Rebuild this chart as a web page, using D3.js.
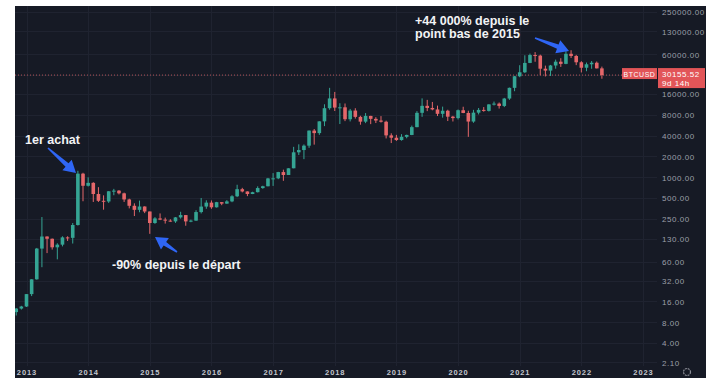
<!DOCTYPE html>
<html>
<head>
<meta charset="utf-8">
<script src="https://cdn.jsdelivr.net/npm/d3@7"></script>
<style>
  body { margin: 0; background: #ffffff; }
  svg { display: block; font-family: "Liberation Sans", Arial, sans-serif; }
</style>
</head>
<body>
<div class="chart"></div>
<script>
var svgWidth = 720;
var svgHeight = 389;

// panel and plot box
var panel = { left: 15, top: 6, right: 706, bottom: 378 };
var plot = { left: 15, top: 6, right: 657, bottom: 366 };

// monthly BTCUSD candles, first one is Nov 2012
var firstMonth = new Date(2012, 10, 1);

var open = [
  11.2, 12.6,
  13.5, 20.4, 33.4, 93, 139, 129, 97, 106, 135, 133, 204, 1129,
  754, 831, 573, 457, 447, 628, 641, 586, 478, 387, 338, 378,
  320, 218, 254, 244, 236, 230, 263, 284, 230, 236, 314, 377,
  430, 368, 437, 416, 448, 531, 673, 624, 573, 609, 699, 742,
  963, 966, 1190, 1080, 1350, 2300, 2480, 2870, 4740, 4360, 6450, 10000,
  13850, 10200, 10300, 6920, 9240, 7490, 6390, 7730, 7010, 6630, 6370, 4040,
  3740, 3460, 3850, 4100, 5320, 8570, 10820, 10080, 9590, 8290, 9190, 7540,
  7190, 9350, 8530, 6410, 8620, 9450, 9140, 11350, 11650, 10780, 13800, 19700,
  28990, 33100, 45200, 58800, 57700, 37300, 35000, 41500, 47100, 43800, 61300, 57000,
  46200, 38500, 43200, 45500, 37700
];

var high = [
  12.8, 13.8,
  20.4, 33.5, 95, 266, 140, 130, 111, 140, 140, 218, 1242, 1163,
  1000, 849, 720, 548, 630, 680, 653, 600, 490, 420, 460, 380,
  320, 265, 300, 261, 247, 266, 317, 285, 244, 334, 502, 465,
  462, 441, 437, 467, 550, 780, 704, 626, 618, 740, 755, 980,
  1150, 1200, 1290, 1350, 2760, 3000, 2990, 4760, 5000, 6470, 11400, 19700,
  17200, 11800, 11700, 9760, 9990, 7770, 8500, 7760, 7410, 7680, 6600, 4330,
  4110, 4210, 4140, 5600, 9070, 13880, 13200, 12320, 10900, 10540, 9500, 7750,
  9580, 10500, 9190, 9470, 10070, 10380, 11440, 12470, 12090, 14100, 19900, 29300,
  41900, 58300, 61700, 64800, 59500, 41300, 42300, 50500, 52900, 67000, 69000, 59100,
  47900, 45800, 48200, 47400, 40000
];

var low = [
  10.0, 12.2,
  13.3, 19.1, 33, 50, 80, 90, 65, 100, 120, 110, 200, 450,
  735, 440, 440, 340, 426, 550, 565, 440, 355, 275, 312, 303,
  152, 212, 240, 214, 228, 219, 252, 199, 224, 235, 300, 350,
  350, 365, 395, 414, 436, 517, 605, 534, 571, 604, 681, 740,
  750, 940, 890, 1080, 1350, 2100, 1830, 2670, 2970, 4110, 5500, 9500,
  9100, 5900, 6500, 6430, 7070, 5770, 6080, 5880, 6100, 6200, 3650, 3130,
  3360, 3390, 3670, 4070, 5300, 7500, 9070, 9320, 7700, 7300, 6520, 6420,
  6870, 8470, 3850, 6150, 8120, 8900, 8950, 10950, 9880, 10370, 13200, 17600,
  28100, 32300, 44900, 47000, 30000, 28800, 29300, 37300, 39600, 43300, 53300, 42000,
  32900, 34300, 37200, 37600, 26700
];

var close = [
  12.6, 13.5,
  20.4, 33.4, 93, 139, 129, 97, 106, 135, 133, 204, 1129, 754,
  831, 573, 457, 447, 628, 641, 586, 478, 387, 338, 378, 320,
  218, 254, 244, 236, 230, 263, 284, 230, 236, 314, 377, 430,
  368, 437, 416, 448, 531, 673, 624, 573, 609, 699, 742, 963,
  966, 1190, 1080, 1350, 2300, 2480, 2870, 4740, 4360, 6450, 10000, 13850,
  10200, 10300, 6920, 9240, 7490, 6390, 7730, 7010, 6630, 6370, 4040, 3740,
  3460, 3850, 4100, 5320, 8570, 10820, 10080, 9590, 8290, 9190, 7540, 7190,
  9350, 8530, 6410, 8620, 9450, 9140, 11350, 11650, 10780, 13800, 19700, 28990,
  33100, 45200, 58800, 57700, 37300, 35000, 41500, 47100, 43800, 61300, 57000, 46200,
  38500, 43200, 45500, 37700, 30155.52
];

// 30000 gets a grid line but its label sits under the last price box
var gridTicks = [2.1, 4, 8, 16, 32, 60, 130, 250, 500, 1000, 2000, 4000, 8000, 16000, 30000, 60000, 130000, 250000];
var priceTicks = [2.1, 4, 8, 16, 32, 60, 130, 250, 500, 1000, 2000, 4000, 8000, 16000, 60000, 130000, 250000];
var yearTicks = [2013, 2014, 2015, 2016, 2017, 2018, 2019, 2020, 2021, 2022, 2023];

var lastPrice = 30155.52;
var symbol = "BTCUSD";
var countdown = "9d 14h";

var notes = [
  { lines: ["1er achat"], x: 25, y: 144, tail: [48, 148], tip: [76, 173] },
  { lines: ["-90% depuis le départ"], x: 112, y: 269, tail: [177, 252], tip: [155, 237] },
  { lines: ["+44 000% depuis le", "point bas de 2015"], x: 415, y: 25, tail: [535, 38], tip: [569, 51] }
];

var upColor = "#35a594";
var downColor = "#e5676a";
var gridColor = "#1f2330";

var candles = open.map(function(o, i) {
  return { month: d3.timeMonth.offset(firstMonth, i), o: o, h: high[i], l: low[i], c: close[i] };
});

var svg = d3.select(".chart")
  .append("svg")
  .attr("width", svgWidth)
  .attr("height", svgHeight);

svg.append("rect")
  .attr("x", panel.left)
  .attr("y", panel.top)
  .attr("width", panel.right - panel.left)
  .attr("height", panel.bottom - panel.top)
  .attr("fill", "#161a25");

var base = new Date(2013, 0, 1);
function monthIndex(d) {
  return d3.timeMonth.count(base, d);
}

// one unit = one month, Jan 2013 = 0
var xScale = d3.scaleLinear()
  .domain([0, 120])
  .range([26.5, 643]);

var yScale = d3.scaleLog()
  .domain([4, 250000])
  .range([343, 11.6]);

svg.append("defs").append("clipPath")
  .attr("id", "plotClip")
  .append("rect")
  .attr("x", plot.left)
  .attr("y", plot.top)
  .attr("width", plot.right - plot.left)
  .attr("height", plot.bottom - plot.top);

// grid
var grid = svg.append("g").attr("clip-path", "url(#plotClip)");

grid.selectAll(".hgrid")
  .data(gridTicks)
  .enter()
  .append("line")
  .attr("x1", plot.left)
  .attr("x2", plot.right)
  .attr("y1", d => Math.round(yScale(d)) + 0.5)
  .attr("y2", d => Math.round(yScale(d)) + 0.5)
  .attr("stroke", gridColor);

grid.selectAll(".vgrid")
  .data(yearTicks)
  .enter()
  .append("line")
  .attr("x1", d => Math.round(xScale((d - 2013) * 12)) + 0.5)
  .attr("x2", d => Math.round(xScale((d - 2013) * 12)) + 0.5)
  .attr("y1", plot.top)
  .attr("y2", plot.bottom)
  .attr("stroke", gridColor);

// last price line
grid.append("line")
  .attr("x1", plot.left)
  .attr("x2", plot.right)
  .attr("y1", yScale(lastPrice))
  .attr("y2", yScale(lastPrice))
  .attr("stroke", "#e5676a")
  .attr("stroke-opacity", 0.75)
  .attr("stroke-dasharray", "1,2");

// candles
var candleGroup = svg.append("g").attr("clip-path", "url(#plotClip)");
var bodyWidth = 3.6;

candleGroup.selectAll(".wick")
  .data(candles)
  .enter()
  .append("line")
  .attr("x1", d => xScale(monthIndex(d.month)))
  .attr("x2", d => xScale(monthIndex(d.month)))
  .attr("y1", d => yScale(d.h))
  .attr("y2", d => yScale(d.l))
  .attr("stroke", d => d.c >= d.o ? upColor : downColor)
  .attr("stroke-width", 1);

candleGroup.selectAll(".body")
  .data(candles)
  .enter()
  .append("rect")
  .attr("x", d => xScale(monthIndex(d.month)) - bodyWidth / 2)
  .attr("y", d => yScale(Math.max(d.o, d.c)))
  .attr("width", bodyWidth)
  .attr("height", d => Math.max(1, yScale(Math.min(d.o, d.c)) - yScale(Math.max(d.o, d.c))))
  .attr("fill", d => d.c >= d.o ? upColor : downColor);

// price axis
var rightAxis = d3.axisRight(yScale)
  .tickValues(priceTicks)
  .tickFormat(d3.format(".2f"))
  .tickSize(0);

var yAxis = svg.append("g")
  .attr("transform", `translate(662, 0)`)
  .call(rightAxis);

yAxis.select(".domain").remove();
yAxis.selectAll("text")
  .attr("x", 0)
  .attr("dy", "0.35em")
  .attr("fill", "#9c9fa8")
  .attr("font-size", 8)
  .attr("letter-spacing", 0.55)
  .attr("font-family", "Liberation Sans, Arial, sans-serif");

// time axis
var bottomAxis = d3.axisBottom(xScale)
  .tickValues(yearTicks.map(y => (y - 2013) * 12))
  .tickFormat(d => String(2013 + d / 12))
  .tickSize(0);

var xAxis = svg.append("g")
  .attr("transform", `translate(0, 369)`)
  .call(bottomAxis);

xAxis.select(".domain").remove();
xAxis.selectAll("text")
  .attr("y", 0)
  .attr("dy", "0.8em")
  .attr("fill", "#c3c6ce")
  .attr("font-size", 7.5)
  .attr("font-weight", "bold")
  .attr("letter-spacing", 0.9)
  .attr("font-family", "Liberation Sans, Arial, sans-serif");

// settings gear
svg.append("circle")
  .attr("cx", 687)
  .attr("cy", 372)
  .attr("r", 3.5)
  .attr("fill", "none")
  .attr("stroke", "#8a8d96")
  .attr("stroke-width", 1.2)
  .attr("stroke-dasharray", "2,0.8");

// last price labels
var py = yScale(lastPrice);

svg.append("rect")
  .attr("x", 622)
  .attr("y", py - 7)
  .attr("width", 35)
  .attr("height", 11)
  .attr("fill", "#e25558");

svg.append("text")
  .attr("x", 639.5)
  .attr("y", py + 1.5)
  .attr("text-anchor", "middle")
  .attr("fill", "#ffffff")
  .attr("font-size", 7)
  .attr("letter-spacing", 0.5)
  .text(symbol);

svg.append("rect")
  .attr("x", 658)
  .attr("y", py - 7)
  .attr("width", 47)
  .attr("height", 20)
  .attr("fill", "#e25558");

svg.append("text")
  .attr("x", 662)
  .attr("y", py + 1.5)
  .attr("fill", "#ffffff")
  .attr("font-size", 8)
  .attr("letter-spacing", 0.55)
  .text(d3.format(".2f")(lastPrice));

svg.append("text")
  .attr("x", 662)
  .attr("y", py + 10.5)
  .attr("fill", "#ffffff")
  .attr("font-size", 8)
  .attr("letter-spacing", 0.55)
  .text(countdown);

// annotations
function arrowPoints(tail, tip) {
  var dx = tip[0] - tail[0], dy = tip[1] - tail[1];
  var len = Math.sqrt(dx * dx + dy * dy);
  var ux = dx / len, uy = dy / len;
  var nx = -uy, ny = ux;
  var hl = 12, hw = 7, w0 = 1.6, w1 = 4.5;
  var bx = tip[0] - ux * hl, by = tip[1] - uy * hl;
  var pts = [
    [tail[0] + nx * w0 / 2, tail[1] + ny * w0 / 2],
    [bx + nx * w1 / 2, by + ny * w1 / 2],
    [bx + nx * hw, by + ny * hw],
    tip,
    [bx - nx * hw, by - ny * hw],
    [bx - nx * w1 / 2, by - ny * w1 / 2],
    [tail[0] - nx * w0 / 2, tail[1] - ny * w0 / 2]
  ];
  return pts.map(p => p.join(",")).join(" ");
}

var noteGroup = svg.append("g");

noteGroup.selectAll("polygon")
  .data(notes)
  .enter()
  .append("polygon")
  .attr("points", d => arrowPoints(d.tail, d.tip))
  .attr("fill", "#2f66f5");

notes.forEach(function(n) {
  n.lines.forEach(function(line, i) {
    noteGroup.append("text")
      .attr("x", n.x)
      .attr("y", n.y + i * 12.5)
      .attr("fill", "#f2f3f5")
      .attr("font-size", 12.5)
      .attr("font-weight", "bold")
      .text(line);
  });
});
</script>
</body>
</html>
